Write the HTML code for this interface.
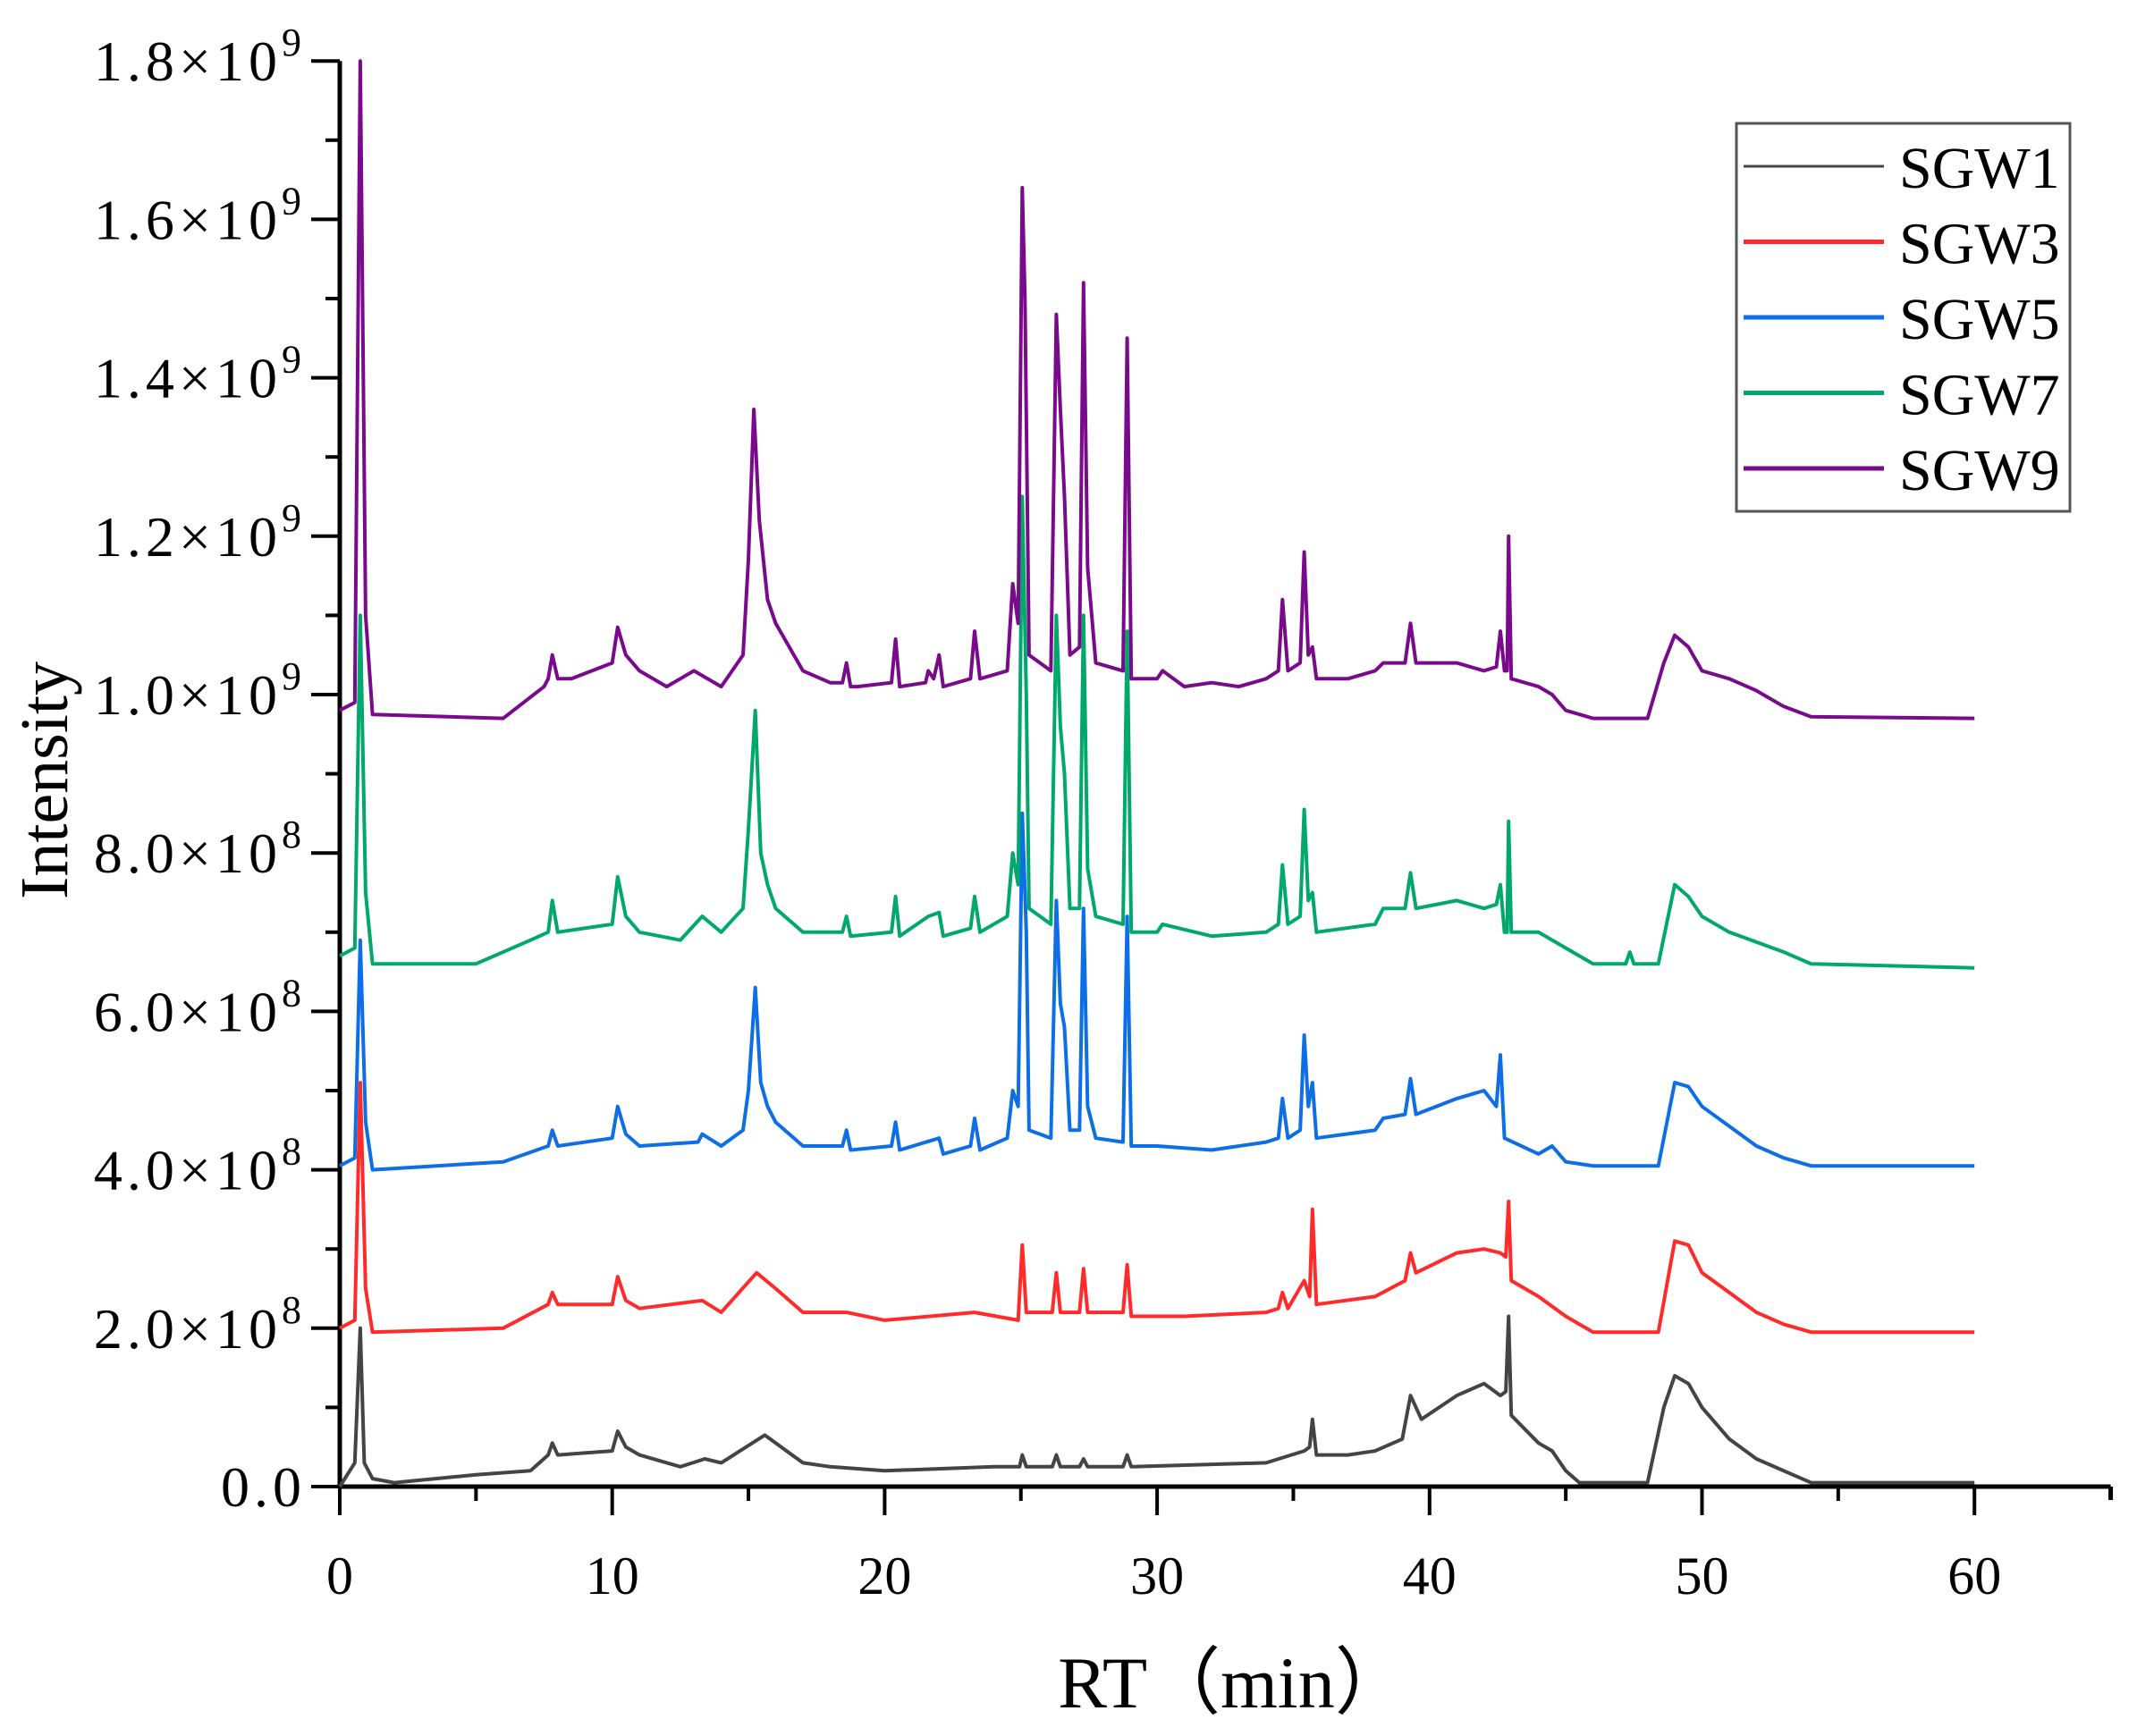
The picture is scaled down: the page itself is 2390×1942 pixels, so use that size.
<!DOCTYPE html>
<html><head><meta charset="utf-8"><style>
html,body{margin:0;padding:0;background:#fff;}
svg{display:block;font-family:"Liberation Serif",serif;}
</style></head><body>
<svg id="chart" width="2390" height="1942" viewBox="0 0 2390 1942" xmlns="http://www.w3.org/2000/svg">
<g id="axes"></g>
<g id="series"></g>
<text x="1379" y="1910" font-size="82" text-anchor="middle">RT（min）</text>
<text x="0" y="0" font-size="76" text-anchor="middle" transform="translate(75,873) rotate(-90)">Intensity</text>
<g>
<rect x="1942" y="138" width="373" height="434" fill="#fff" stroke="#555" stroke-width="3"/>
</g>
<g id="legend-items"></g>
</svg>
<script>
const seriesNames = ["SGW1","SGW3","SGW5","SGW7","SGW9"];
const seriesColors = ["#444444","#ff2a2a","#0d6ee6","#00a86b","#7a0a8c"];
const xTicks = [0,10,20,30,40,50,60];
const yTicks = [0,2,4,6,8,10,12,14,16,18];
const yTickLabels = ["0.0","2.0×10","4.0×10","6.0×10","8.0×10","1.0×10","1.2×10","1.4×10","1.6×10","1.8×10"];
const yTickExp = ["","8","8","8","8","9","9","9","9","9"];
// [minutes, intensity in 1e8]
const s1 = [[0,0],[0.55,0.3],[0.75,2.0],[0.9,0.3],[1.2,0.1],[2,0.05],[5,0.15],[7,0.2],[7.65,0.4],[7.8,0.55],[8.0,0.4],[10,0.45],[10.2,0.7],[10.5,0.5],[11,0.4],[12.5,0.25],[13.4,0.35],[14,0.3],[15.6,0.65],[17,0.3],[18,0.25],[20,0.2],[24,0.25],[24.95,0.25],[25.05,0.4],[25.2,0.25],[26.15,0.25],[26.3,0.4],[26.45,0.25],[27.15,0.25],[27.3,0.35],[27.45,0.25],[28.75,0.25],[28.9,0.4],[29.05,0.25],[34,0.3],[35.4,0.45],[35.6,0.5],[35.7,0.85],[35.85,0.4],[37,0.4],[38,0.45],[39,0.6],[39.3,1.15],[39.7,0.85],[41,1.15],[42,1.3],[42.6,1.15],[42.8,1.2],[42.9,2.15],[43.0,0.9],[44,0.55],[44.5,0.45],[45,0.2],[45.5,0.05],[48,0.05],[48.6,1.0],[49,1.4],[49.5,1.3],[50,1.0],[51,0.6],[52,0.35],[53,0.2],[54,0.05],[60,0.05]];
const s3 = [[0,2.0],[0.55,2.1],[0.75,5.1],[0.95,2.5],[1.2,1.95],[6,2.0],[7.65,2.3],[7.8,2.45],[8.0,2.3],[10,2.3],[10.2,2.65],[10.5,2.35],[11,2.25],[13.3,2.35],[14,2.2],[15.3,2.7],[16,2.5],[17,2.2],[18.6,2.2],[20,2.1],[23.3,2.2],[24.9,2.1],[25.05,3.05],[25.2,2.2],[26.15,2.2],[26.3,2.7],[26.45,2.2],[27.15,2.2],[27.3,2.75],[27.45,2.2],[28.75,2.2],[28.9,2.8],[29.05,2.15],[31,2.15],[34,2.2],[34.45,2.25],[34.6,2.45],[34.8,2.25],[35.4,2.6],[35.6,2.4],[35.7,3.5],[35.85,2.3],[38,2.4],[39.1,2.6],[39.3,2.95],[39.5,2.7],[41,2.95],[42,3.0],[42.6,2.95],[42.8,2.9],[42.9,3.6],[43.0,2.6],[44,2.4],[45,2.15],[46,1.95],[48.4,1.95],[49,3.1],[49.5,3.05],[50,2.7],[51,2.45],[52,2.2],[53,2.05],[54,1.95],[60,1.95]];
const s5 = [[0,4.05],[0.55,4.15],[0.75,6.9],[0.95,4.6],[1.2,4.0],[6,4.1],[7.65,4.3],[7.8,4.5],[8.0,4.3],[10,4.4],[10.2,4.8],[10.5,4.45],[11,4.3],[13.15,4.35],[13.3,4.45],[14,4.3],[14.8,4.5],[15.0,5.0],[15.25,6.3],[15.45,5.1],[15.7,4.8],[16,4.6],[17,4.3],[18.45,4.3],[18.6,4.5],[18.75,4.25],[20.25,4.3],[20.4,4.6],[20.55,4.25],[22,4.4],[22.15,4.2],[23.15,4.3],[23.3,4.65],[23.5,4.25],[24.5,4.4],[24.7,5.0],[24.9,4.8],[25.05,8.5],[25.2,7],[25.3,4.5],[26.1,4.4],[26.3,7.4],[26.45,6.1],[26.6,5.8],[26.8,4.5],[27.15,4.5],[27.3,7.3],[27.45,4.8],[27.75,4.4],[28.75,4.35],[28.9,7.2],[29.05,4.3],[30,4.3],[32,4.25],[34,4.35],[34.45,4.4],[34.6,4.9],[34.8,4.4],[35.25,4.5],[35.4,5.7],[35.55,4.8],[35.7,5.1],[35.85,4.4],[38,4.5],[38.3,4.65],[39.1,4.7],[39.3,5.15],[39.5,4.7],[41,4.9],[42,5.0],[42.45,4.8],[42.6,5.45],[42.75,4.4],[44,4.2],[44.5,4.3],[45,4.1],[46,4.05],[48.4,4.05],[49,5.1],[49.5,5.05],[50,4.8],[51,4.55],[52,4.3],[53,4.15],[54,4.05],[60,4.05]];
const s7 = [[0,6.7],[0.55,6.8],[0.75,11],[0.95,7.5],[1.2,6.6],[5,6.6],[7,6.9],[7.65,7.0],[7.8,7.4],[8.0,7.0],[10,7.1],[10.2,7.7],[10.5,7.2],[11,7.0],[12.5,6.9],[13.3,7.2],[14,7.0],[14.8,7.3],[15.0,8.3],[15.25,9.8],[15.45,8.0],[15.7,7.6],[16,7.3],[17,7.0],[18.45,7.0],[18.6,7.2],[18.75,6.95],[20.25,7.0],[20.4,7.45],[20.55,6.95],[21.6,7.2],[22,7.25],[22.15,6.95],[23.15,7.05],[23.3,7.45],[23.5,7.0],[24.5,7.2],[24.7,8.0],[24.9,7.6],[25.05,12.5],[25.2,10],[25.3,7.3],[26.1,7.1],[26.3,11.0],[26.45,9.6],[26.6,9.0],[26.8,7.3],[27.15,7.3],[27.3,11.0],[27.45,7.8],[27.75,7.2],[28.75,7.1],[28.9,10.8],[29.05,7.0],[30,7.0],[30.2,7.1],[32,6.95],[34,7.0],[34.45,7.1],[34.6,7.85],[34.8,7.1],[35.25,7.2],[35.4,8.55],[35.55,7.4],[35.7,7.5],[35.85,7.0],[38,7.1],[38.3,7.3],[39.1,7.3],[39.3,7.75],[39.5,7.3],[41,7.4],[42,7.3],[42.45,7.35],[42.6,7.6],[42.75,7.0],[42.85,7.0],[42.9,8.4],[43.0,7.0],[44,7.0],[45,6.8],[46,6.6],[47.2,6.6],[47.35,6.75],[47.5,6.6],[48.4,6.6],[49,7.6],[49.5,7.45],[50,7.2],[51,7.0],[53,6.75],[54,6.6],[60,6.55]];
const s9 = [[0,9.8],[0.55,9.9],[0.75,18],[0.95,11],[1.2,9.75],[6,9.7],[7.5,10.1],[7.65,10.2],[7.8,10.5],[8.0,10.2],[8.5,10.2],[10,10.4],[10.2,10.85],[10.5,10.5],[11,10.3],[12,10.1],[13,10.3],[14,10.1],[14.8,10.5],[15.0,11.7],[15.2,13.6],[15.4,12.2],[15.7,11.2],[16,10.9],[17,10.3],[18,10.15],[18.45,10.15],[18.6,10.4],[18.75,10.1],[19,10.1],[20.25,10.15],[20.4,10.7],[20.55,10.1],[21.5,10.15],[21.6,10.3],[21.8,10.2],[22,10.5],[22.15,10.1],[23.15,10.2],[23.3,10.8],[23.5,10.2],[24.5,10.3],[24.7,11.4],[24.9,10.9],[25.05,16.4],[25.15,15],[25.3,10.5],[26.1,10.3],[26.3,14.8],[26.45,13.6],[26.6,12.5],[26.8,10.5],[27.15,10.6],[27.3,15.2],[27.45,11.6],[27.6,11.0],[27.75,10.4],[28.75,10.3],[28.9,14.5],[29.05,10.2],[30,10.2],[30.2,10.3],[31,10.1],[32,10.15],[33,10.1],[34,10.2],[34.45,10.3],[34.6,11.2],[34.8,10.3],[35.25,10.4],[35.4,11.8],[35.55,10.5],[35.7,10.6],[35.85,10.2],[36,10.2],[37,10.2],[38,10.3],[38.3,10.4],[39.1,10.4],[39.3,10.9],[39.5,10.4],[40,10.4],[41,10.4],[42,10.3],[42.45,10.35],[42.6,10.8],[42.75,10.3],[42.85,10.3],[42.9,12.0],[43.0,10.2],[44,10.1],[44.5,10.0],[45,9.8],[46,9.7],[48,9.7],[48.6,10.4],[49,10.75],[49.5,10.6],[50,10.3],[51,10.2],[52,10.05],[53,9.85],[54,9.72],[60,9.7]];
const seriesData = [s1,s3,s5,s7,s9];

const X0=380, XPM=30.47, Y0=1663, YPU=88.6;
function sx(v){return X0+v*XPM;}
function sy(v){return Y0-v*YPU;}
const NS="http://www.w3.org/2000/svg";
function mk(tag,attrs,parent){const e=document.createElementNS(NS,tag);for(const k in attrs)e.setAttribute(k,attrs[k]);parent.appendChild(e);return e;}
const axes=document.getElementById('axes');
const yAxis=mk('line',{x1:X0,y1:Y0,x2:X0,y2:sy(18),stroke:'#000','stroke-width':5},axes);


const xAxis=mk('line',{x1:X0-2,y1:Y0,x2:sx(65),y2:Y0,stroke:'#000','stroke-width':5},axes);


const xEnd=mk('line',{x1:sx(65),y1:Y0,x2:sx(65),y2:Y0+15,stroke:'#000','stroke-width':5},axes);


for(let m=0;m<65;m+=5){
  const major=(m%10===0);
  const t=mk('line',{x1:sx(m),y1:Y0,x2:sx(m),y2:Y0+(major?32:16),stroke:'#000','stroke-width':4},axes);
  
  
}
xTicks.forEach(v=>{
  const t=mk('text',{x:sx(v),y:Y0+120,'font-size':60,'text-anchor':'middle'},axes);
  t.textContent=v;
  
  
});
for(let v=0;v<=18;v++){
  const major=(v%2===0);
  const t=mk('line',{x1:X0-(major?32:16),y1:sy(v),x2:X0,y2:sy(v),stroke:'#000','stroke-width':4},axes);
  
  
}
yTicks.forEach((v,i)=>{
  const t=mk('text',{x:342,y:sy(v)+22,'font-size':64,'letter-spacing':5,'text-anchor':'end'},axes);
  
  
  if(yTickExp[i]){
    const a=document.createElementNS(NS,'tspan');a.textContent=yTickLabels[i];t.appendChild(a);
    const b=document.createElementNS(NS,'tspan');b.textContent=yTickExp[i];b.setAttribute('dy','-28');b.setAttribute('font-size','44');t.appendChild(b);
  } else t.textContent=yTickLabels[i];
});
const sg=document.getElementById('series');
seriesNames.forEach((n,i)=>{
  const pts=seriesData[i];
  let d='';
  pts.forEach((p,k)=>{d+=(k?'L':'M')+sx(p[0]).toFixed(1)+' '+sy(p[1]).toFixed(1);});
  const p=mk('path',{d:d,fill:'none',stroke:seriesColors[i],'stroke-width':4,'stroke-linejoin':'round'},sg);
  
  
});
const lg=document.getElementById('legend-items');
seriesNames.forEach((n,i)=>{
  const yy=186+i*84.5;
  const l=mk('line',{x1:1950,y1:yy,x2:2107,y2:yy,stroke:seriesColors[i],'stroke-width':i===0?3:5},lg);
  
  
  const t=mk('text',{x:2124,y:yy+24,'font-size':66},lg);
  t.textContent=n;
  
  
});
</script>
</body></html>
